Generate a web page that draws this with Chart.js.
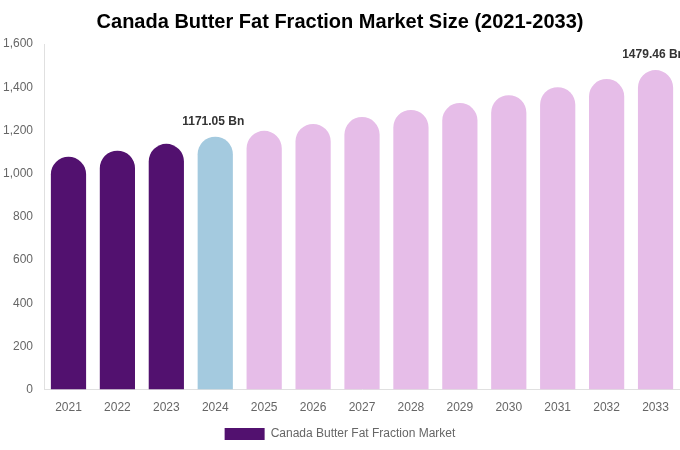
<!DOCTYPE html>
<html>
<head>
<meta charset="utf-8">
<script src="https://cdn.jsdelivr.net/npm/chart.js@4"></script>
<style>
  html, body { margin: 0; padding: 0; background: #fff; }
  #wrap { width: 680px; height: 450px; position: relative; }
</style>
</head>
<body>
<div id="wrap"><canvas id="c"></canvas></div>
<script>
const years = ["2021","2022","2023","2024","2025","2026","2027","2028","2029","2030","2031","2032","2033"];
const marketSize = [1078, 1106, 1138, 1171.05, 1198, 1230, 1262, 1295, 1327, 1363, 1400, 1438, 1479.46];
const barColors = ["#52116f","#52116f","#52116f","#a4cadf","#e6bde8","#e6bde8","#e6bde8","#e6bde8","#e6bde8","#e6bde8","#e6bde8","#e6bde8","#e6bde8"];
const labelledYears = ["2024", "2033"];

// draws "xxx Bn" above the highlighted bars
const valueLabels = {
  id: "valueLabels",
  afterDatasetsDraw(chart) {
    const ctx = chart.ctx;
    const meta = chart.getDatasetMeta(0);
    ctx.save();
    ctx.font = "bold 12px 'Liberation Sans', Arial, sans-serif";
    ctx.fillStyle = "#333";
    ctx.textAlign = "center";
    ctx.textBaseline = "bottom";
    meta.data.forEach((bar, i) => {
      if (!labelledYears.includes(years[i])) return;
      ctx.fillText(marketSize[i].toFixed(2) + " Bn", bar.x - 2, bar.y - 9);
    });
    ctx.restore();
  },
};

const ctx = document.getElementById("c").getContext("2d");
new Chart(ctx, {
  type: "bar",
  data: {
    labels: years,
    datasets: [
      {
        label: "Canada Butter Fat Fraction Market",
        data: marketSize,
        backgroundColor: barColors,
        borderRadius: 40,
        borderSkipped: "bottom",
        barPercentage: 0.72,
        categoryPercentage: 1,
      },
    ],
  },
  options: {
    responsive: true,
    maintainAspectRatio: false,
    animation: false,
    layout: { padding: { top: 0, right: 0, bottom: 0, left: 0 } },
    plugins: {
      title: {
        display: true,
        text: "Canada Butter Fat Fraction Market Size (2021-2033)",
        color: "#000",
        font: { family: "'Liberation Sans', Arial, sans-serif", size: 20, weight: "bold" },
        padding: { top: 10, bottom: 10 },
      },
      legend: {
        position: "bottom",
        labels: {
          color: "#666",
          padding: 7,
          font: { family: "'Liberation Sans', Arial, sans-serif", size: 12 },
          boxWidth: 40,
          boxHeight: 12,
          generateLabels: (chart) => [{
            text: "Canada Butter Fat Fraction Market",
            fillStyle: barColors[0],
            strokeStyle: barColors[0],
            fontColor: "#666",
            lineWidth: 0,
            hidden: false,
            datasetIndex: 0,
          }],
        },
      },
      tooltip: { enabled: false },
    },
    scales: {
      x: {
        grid: { display: false },
        border: { display: true, color: "#e0e0e0" },
        ticks: {
          color: "#666",
          font: { family: "'Liberation Sans', Arial, sans-serif", size: 12 },
          padding: 3,
        },
        afterFit(scale) { scale.height += 3; },
      },
      y: {
        min: 0,
        max: 1600,
        grid: { display: false },
        border: { display: true, color: "#e0e0e0" },
        ticks: {
          stepSize: 200,
          color: "#666",
          font: { family: "'Liberation Sans', Arial, sans-serif", size: 12 },
        },
      },
    },
  },
  plugins: [valueLabels],
});
</script>
</body>
</html>
